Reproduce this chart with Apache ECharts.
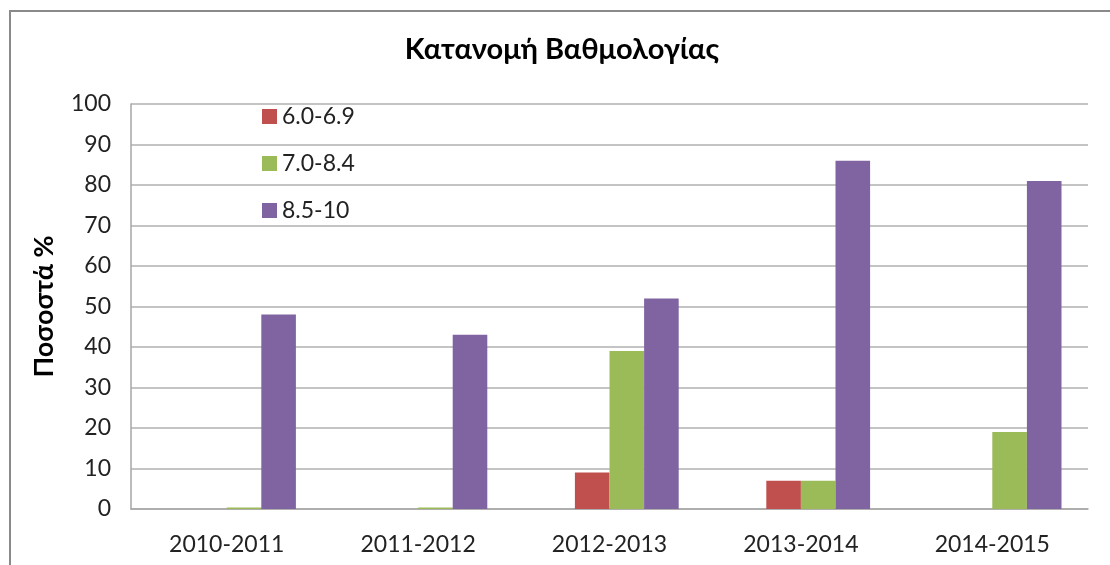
<!DOCTYPE html>
<html lang="el">
<head>
  <meta charset="UTF-8">
  <title>Κατανομή Βαθμολογίας</title>
  <script src="https://cdn.jsdelivr.net/npm/echarts@6/dist/echarts.min.js"></script>
  <style>
    html, body { margin: 0; padding: 0; background: #fff; }
    #main { width: 1110px; height: 565px; }
  </style>
</head>
<body>
<div id="main"></div>
<script>
  // data
  var years = ['2010-2011', '2011-2012', '2012-2013', '2013-2014', '2014-2015'];
  var low = [0, 0, 9, 7, 0];          // 6.0-6.9
  var mid = [0.4, 0.4, 39, 7, 19];    // 7.0-8.4
  var high = [48, 43, 52, 86, 81];    // 8.5-10
  var seriesNames = ['6.0-6.9', '7.0-8.4', '8.5-10'];
  var colors = ['#c0504d', '#9bbb59', '#8064a2'];

  var font = 'Lato, "Open Sans", sans-serif';

  function bar(name, values, color) {
    return {
      name: name,
      type: 'bar',
      data: values,
      barWidth: 34.6,
      barGap: '0%',
      itemStyle: { color: color },
      silent: true
    };
  }

  var chart = echarts.init(document.querySelector('#main'));
  chart.setOption({
    animation: false,
    title: {
      text: 'Κατανομή Βαθμολογίας',
      left: 562,
      textAlign: 'center',
      top: 35,
      padding: 0,
      textStyle: { fontFamily: font, fontSize: 29, fontWeight: 'bold', color: '#000' }
    },
    graphic: [{
      type: 'rect',
      shape: { x: 10, y: 11, width: 1110, height: 600 },
      style: { fill: 'none', stroke: '#8a8a8a', lineWidth: 2 },
      silent: true
    }],
    legend: {
      data: seriesNames,
      orient: 'vertical',
      left: 262,
      top: 105,
      padding: 0,
      itemWidth: 15,
      itemHeight: 15,
      itemGap: 24,
      icon: 'rect',
      textStyle: { fontFamily: font, fontSize: 23, color: '#222' }
    },
    grid: { left: 131, right: 22, top: 104, bottom: 56 },
    xAxis: {
      type: 'category',
      data: years,
      axisLine: { lineStyle: { color: '#a6a6a6', width: 1.5 } },
      axisTick: { show: false },
      axisLabel: { fontFamily: font, fontSize: 23, color: '#222', margin: 24 }
    },
    yAxis: {
      type: 'value',
      min: 0,
      max: 100,
      interval: 10,
      name: 'Ποσοστά %',
      nameLocation: 'middle',
      nameGap: 73,
      nameTextStyle: { fontFamily: font, fontSize: 27, fontWeight: 'bold', color: '#000' },
      axisLine: { show: true, lineStyle: { color: '#a6a6a6', width: 1.5 } },
      axisTick: { show: false },
      splitLine: { lineStyle: { color: '#b0b0b0', width: 1.5 } },
      axisLabel: { fontFamily: font, fontSize: 23, color: '#222', margin: 20 }
    },
    series: [
      bar('', [0, 0, 0, 0, 0], 'rgba(0,0,0,0)'),
      bar(seriesNames[0], low, colors[0]),
      bar(seriesNames[1], mid, colors[1]),
      bar(seriesNames[2], high, colors[2])
    ]
  });
</script>
</body>
</html>
